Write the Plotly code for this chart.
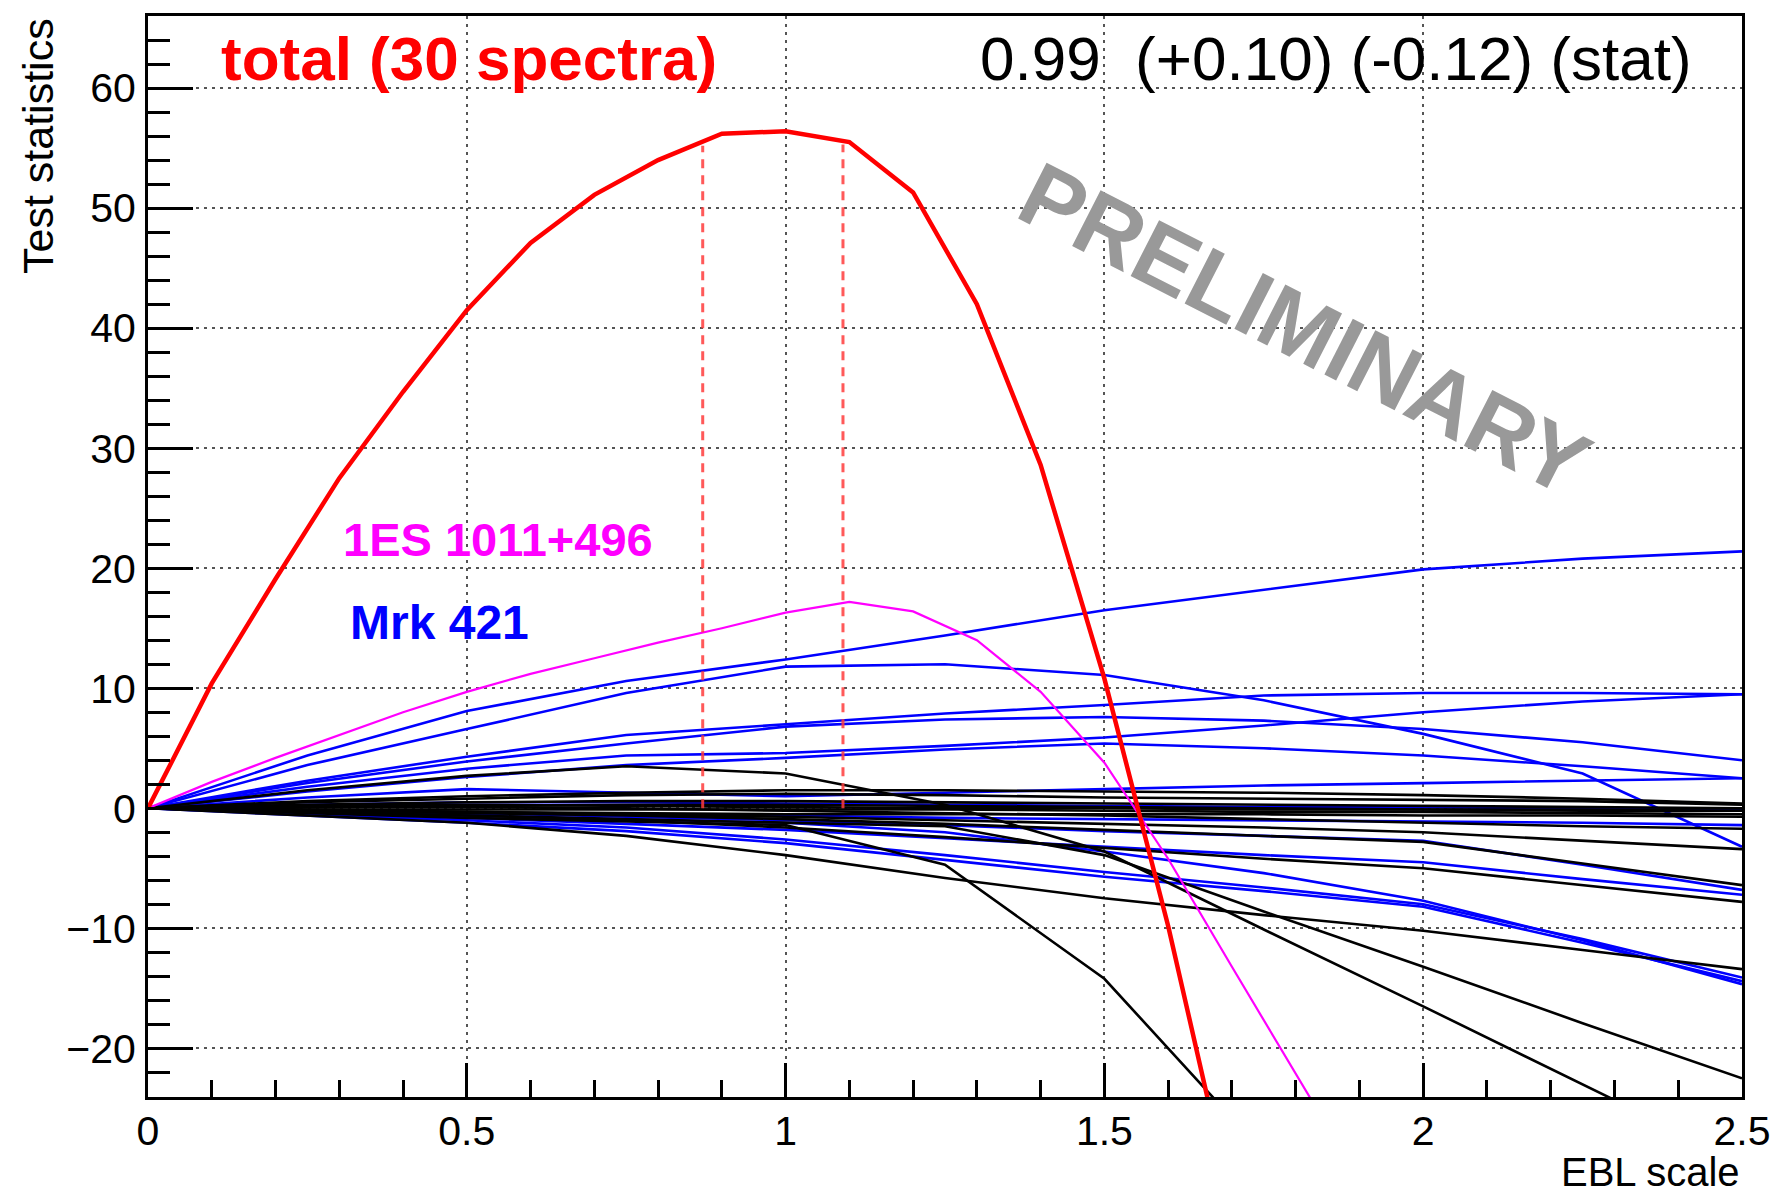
import plotly.graph_objects as go

# ---------------------------------------------------------------------------
# Test-statistic scans versus EBL scale factor
# ---------------------------------------------------------------------------

# coarse EBL-scale sampling of the individual spectra
ebl_scale = [0.0, 0.25, 0.5, 0.75, 1.0, 1.25, 1.5, 1.75, 2.0, 2.25, 2.5]

# fine sampling used for the combined scan and for 1ES 1011+496
ebl_scale_fine = [0.0, 0.1, 0.2, 0.3, 0.4, 0.5, 0.6, 0.7, 0.8, 0.9, 1.0,
                  1.1, 1.2, 1.3, 1.4, 1.5, 1.6, 1.7, 1.8, 1.9]

# combined test statistic of all 30 spectra
ts_total = [0.0, 10.4, 19.1, 27.5, 34.7, 41.5, 47.1, 51.1, 54.0, 56.2, 56.4,
            55.5, 51.3, 42.0, 28.6, 10.8, -9.8, -33.0]

# 1ES 1011+496
ts_1es1011 = [0.0, 2.2, 4.2, 6.1, 8.0, 9.7, 11.2, 12.5, 13.8, 15.0, 16.3,
              17.2, 16.4, 14.0, 9.7, 3.8, -4.2, -13.2, -22.2, -31.0]

# Mrk 421 spectra
ts_mrk421 = [
    [0, 4.4, 8.1, 10.6, 12.4, 14.4, 16.5, 18.2, 19.9, 20.8, 21.4],
    [0, 3.6, 6.6, 9.6, 11.8, 12.0, 11.1, 9.0, 6.2, 2.9, -3.2],
    [0, 2.3, 4.3, 6.1, 7.0, 7.9, 8.6, 9.4, 9.6, 9.6, 9.5],
    [0, 2.1, 3.9, 5.4, 6.8, 7.4, 7.6, 7.3, 6.6, 5.5, 4.0],
    [0, 1.8, 3.3, 4.4, 4.6, 5.2, 5.9, 6.9, 8.0, 8.9, 9.5],
    [0, 1.4, 2.6, 3.6, 4.2, 4.9, 5.4, 5.0, 4.4, 3.5, 2.5],
    [0, 0.9, 1.6, 1.3, 1.0, 1.3, 1.6, 1.9, 2.1, 2.3, 2.5],
    [0, 0.3, 0.5, 0.5, 0.4, 0.3, 0.2, 0.1, 0.1, 0.0, -0.1],
    [0, -0.2, -0.4, -0.5, -0.6, -0.8, -0.9, -1.0, -1.1, -1.2, -1.4],
    [0, -0.2, -0.4, -0.7, -1.0, -1.4, -1.9, -2.3, -2.7, -4.7, -6.8],
    [0, -0.4, -0.8, -1.3, -1.8, -2.5, -3.2, -3.9, -4.5, -5.9, -7.2],
    [0, -0.5, -1.0, -1.6, -2.6, -3.9, -5.3, -6.6, -8.0, -10.9, -14.1],
    [0, -0.6, -1.2, -1.9, -2.9, -4.3, -5.7, -6.9, -8.2, -11.2, -14.4],
    [0, -0.3, -0.6, -0.9, -1.2, -2.0, -3.6, -5.4, -7.7, -11.0, -14.65],
]

# remaining sources
ts_other = [
    [0, -0.4, -0.8, -1.1, -1.4, -4.7, -14.2, -28.7, -43.0, -58.0, -72.0],
    [0, 1.5, 2.7, 3.5, 2.9, 0.3, -3.6, -10.1, -16.5, -23.0, -29.5],
    [0, -0.6, -1.2, -2.3, -3.9, -5.8, -7.5, -8.9, -10.2, -11.8, -13.4],
    [0, -0.3, -0.6, -0.9, -1.2, -1.5, -3.9, -8.6, -13.2, -17.9, -22.5],
    [0, -0.3, -0.6, -1.0, -1.6, -2.4, -3.3, -4.2, -5.0, -6.4, -7.8],
    [0, -0.2, -0.4, -0.6, -0.9, -1.3, -1.8, -2.3, -2.8, -4.6, -6.4],
    [0, -0.1, -0.3, -0.5, -0.7, -1.0, -1.3, -1.6, -2.0, -2.7, -3.4],
    [0, 0.1, 0.1, 0.0, -0.2, -0.4, -0.6, -0.9, -1.2, -1.5, -1.7],
    [0, 0.6, 1.0, 1.3, 1.5, 1.5, 1.4, 1.3, 1.1, 0.8, 0.4],
    [0, 0.5, 0.8, 1.1, 1.2, 1.1, 0.9, 0.8, 0.7, 0.6, 0.3],
    [0, 0.3, 0.5, 0.6, 0.6, 0.5, 0.4, 0.3, 0.2, 0.1, 0.0],
    [0, 0.1, 0.2, 0.3, 0.3, 0.2, 0.1, 0.0, -0.1, -0.2, -0.2],
    [0, -0.1, -0.1, -0.1, -0.1, -0.1, -0.2, -0.3, -0.3, -0.4, -0.5],
    [0, -0.2, -0.3, -0.4, -0.5, -0.5, -0.5, -0.5, -0.6, -0.6, -0.7],
    [0, 0.2, 0.3, 0.2, 0.1, 0.0, 0.0, -0.1, -0.1, -0.1, -0.2],
]

# best-fit EBL scale and its statistical errors
best_scale = 0.99
err_up = 0.10
err_lo = 0.12
# combined TS at the two error bounds
ts_at_bounds = [55.2, 55.3]

x_range = [0, 2.5]
y_range = [-24.05, 66]

FONT = "Liberation Sans, Arial, Helvetica, sans-serif"

fig = go.Figure()

for ts in ts_mrk421:
    fig.add_trace(go.Scatter(x=ebl_scale, y=ts, mode="lines",
                             line=dict(color="#0000ff", width=2.6),
                             hoverinfo="skip"))

for ts in ts_other:
    fig.add_trace(go.Scatter(x=ebl_scale, y=ts, mode="lines",
                             line=dict(color="#000000", width=2.6),
                             hoverinfo="skip"))

fig.add_trace(go.Scatter(x=ebl_scale_fine[:len(ts_1es1011)], y=ts_1es1011,
                         mode="lines",
                         line=dict(color="#ff00ff", width=2.2),
                         hoverinfo="skip"))

fig.add_trace(go.Scatter(x=ebl_scale_fine[:len(ts_total)], y=ts_total,
                         mode="lines",
                         line=dict(color="#ff0000", width=4.5),
                         hoverinfo="skip"))

# dashed markers of the 1-sigma interval
for xb, tb in zip([best_scale - err_lo, best_scale + err_up], ts_at_bounds):
    fig.add_trace(go.Scatter(x=[xb, xb], y=[0, tb], mode="lines",
                             line=dict(color="rgba(255,60,60,0.85)", width=3,
                                       dash="9px,7px"),
                             hoverinfo="skip"))

axis_common = dict(
    showline=True, linecolor="black", linewidth=3, mirror=True,
    ticks="inside", tickcolor="black", tickwidth=3,
    showgrid=True, gridcolor="#555555", gridwidth=2, griddash="3px,5px",
    zeroline=False,
    tickfont=dict(family=FONT, size=41, color="black"),
)

fig.update_xaxes(range=x_range, tickmode="linear", tick0=0, dtick=0.5,
                 ticklen=34, ticklabelstandoff=-4,
                 minor=dict(dtick=0.1, ticks="inside", ticklen=17,
                            tickwidth=3, tickcolor="black", showgrid=False),
                 **axis_common)
fig.update_yaxes(range=y_range, tickmode="linear", tick0=0, dtick=10,
                 ticklen=45, ticklabelstandoff=1,
                 minor=dict(dtick=2, ticks="inside", ticklen=22,
                            tickwidth=3, tickcolor="black", showgrid=False),
                 **axis_common)

annotations = [
    dict(text="EBL scale", xref="paper", yref="paper", x=1, y=0,
         xanchor="right", yanchor="middle", yshift=-75, showarrow=False,
         font=dict(family=FONT, size=40, color="black")),
    dict(text="Test statistics", xref="paper", yref="paper", x=0, y=1,
         xanchor="center", yanchor="top", xshift=-110, textangle=-90,
         showarrow=False, font=dict(family=FONT, size=43, color="black")),
    dict(text="<b>total (30 spectra)</b>", x=0.111, y=62.5,
         xanchor="left", yanchor="middle", showarrow=False,
         font=dict(family=FONT, size=62, color="#ff0000")),
    dict(text=f"{best_scale:.2f}\u00a0 (+{err_up:.2f}) (-{err_lo:.2f}) (stat)",
         x=2.424, y=62.5, xanchor="right", yanchor="middle", showarrow=False,
         font=dict(family=FONT, size=62, color="black")),
    dict(text="<b>1ES 1011+496</b>", x=0.302, y=22.4,
         xanchor="left", yanchor="middle", showarrow=False,
         font=dict(family=FONT, size=47, color="#ff00ff")),
    dict(text="<b>Mrk 421</b>", x=0.313, y=15.5,
         xanchor="left", yanchor="middle", showarrow=False,
         font=dict(family=FONT, size=48, color="#0000ff")),
    dict(text="<b>PRELIMINARY</b>", x=1.815, y=39.9,
         xanchor="center", yanchor="middle", textangle=27, showarrow=False,
         font=dict(family=FONT, size=91, color="#999999")),
]

fig.update_layout(
    width=1783, height=1195,
    margin=dict(l=148, r=38, t=16, b=98),
    paper_bgcolor="white", plot_bgcolor="white",
    showlegend=False,
    annotations=annotations,
)

fig.write_html("out.html")
